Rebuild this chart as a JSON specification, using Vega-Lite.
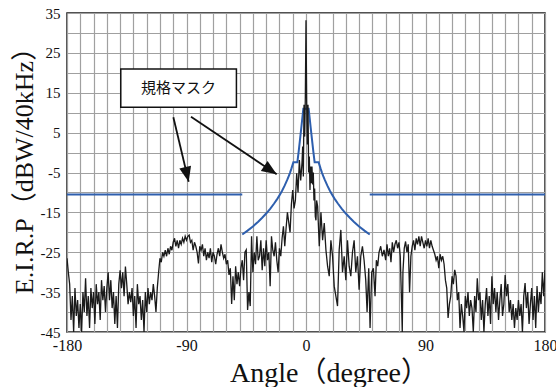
{
"$schema": "https://vega.github.io/schema/vega-lite/v6.json",
"width": 478, "height": 319,
"autosize": "none",
"padding": {"left": 67, "top": 13, "right": 11, "bottom": 55},
"background": "white",
"config": {"view": {"stroke": "#1a1a1a", "strokeWidth": 1.5}},
"datasets": {
"eirp": [
{"angle":-180,"eirp":-26.5},{"angle":-179,"eirp":-30},{"angle":-178,"eirp":-33},{"angle":-177,"eirp":-42},{"angle":-176,"eirp":-36},{"angle":-175,"eirp":-45},{"angle":-174,"eirp":-34},{"angle":-173,"eirp":-41},{"angle":-172,"eirp":-37},{"angle":-171,"eirp":-44},
{"angle":-170,"eirp":-38},{"angle":-169,"eirp":-45},{"angle":-168,"eirp":-35},{"angle":-167,"eirp":-40},{"angle":-166,"eirp":-31.5},{"angle":-165,"eirp":-41},{"angle":-164,"eirp":-36},{"angle":-163,"eirp":-44},{"angle":-162,"eirp":-34},{"angle":-161,"eirp":-39},
{"angle":-160,"eirp":-35},{"angle":-159,"eirp":-43},{"angle":-158,"eirp":-33},{"angle":-157,"eirp":-38},{"angle":-156,"eirp":-35},{"angle":-155,"eirp":-42},{"angle":-154,"eirp":-32},{"angle":-153,"eirp":-37},{"angle":-152,"eirp":-33.5},{"angle":-151,"eirp":-40},
{"angle":-150,"eirp":-34},{"angle":-149,"eirp":-30},{"angle":-148,"eirp":-37},{"angle":-147,"eirp":-32},{"angle":-146,"eirp":-39},{"angle":-145,"eirp":-35},{"angle":-144,"eirp":-43},{"angle":-143,"eirp":-36},{"angle":-142,"eirp":-44},{"angle":-141,"eirp":-33},
{"angle":-140,"eirp":-29.5},{"angle":-139,"eirp":-34},{"angle":-138,"eirp":-30},{"angle":-137,"eirp":-36},{"angle":-136,"eirp":-28.6},{"angle":-135,"eirp":-33},{"angle":-134,"eirp":-38},{"angle":-133,"eirp":-35},{"angle":-132,"eirp":-37.5},{"angle":-131,"eirp":-34},
{"angle":-130,"eirp":-41},{"angle":-129,"eirp":-36},{"angle":-128,"eirp":-44},{"angle":-127,"eirp":-33},{"angle":-126,"eirp":-38},{"angle":-125,"eirp":-36},{"angle":-124,"eirp":-42},{"angle":-123,"eirp":-37},{"angle":-122,"eirp":-45},{"angle":-121,"eirp":-35},
{"angle":-120,"eirp":-40},{"angle":-119,"eirp":-34},{"angle":-118,"eirp":-38},{"angle":-117,"eirp":-35},{"angle":-116,"eirp":-37},{"angle":-115,"eirp":-33},{"angle":-114,"eirp":-36},{"angle":-113,"eirp":-40},{"angle":-112,"eirp":-34},{"angle":-111,"eirp":-30},
{"angle":-110,"eirp":-26.5},{"angle":-109,"eirp":-27.5},{"angle":-108,"eirp":-25},{"angle":-107,"eirp":-26},{"angle":-106,"eirp":-24.5},{"angle":-105,"eirp":-26},{"angle":-104,"eirp":-24},{"angle":-103,"eirp":-25.5},{"angle":-102,"eirp":-23.5},{"angle":-101,"eirp":-24.5},
{"angle":-100,"eirp":-22.5},{"angle":-99,"eirp":-21.5},{"angle":-98,"eirp":-23.5},{"angle":-97,"eirp":-22},{"angle":-96,"eirp":-24},{"angle":-95,"eirp":-22},{"angle":-94,"eirp":-23},{"angle":-93,"eirp":-21.5},{"angle":-92,"eirp":-22.5},{"angle":-91,"eirp":-21},
{"angle":-90,"eirp":-22},{"angle":-89,"eirp":-21},{"angle":-88,"eirp":-20.7},{"angle":-87,"eirp":-22.5},{"angle":-86,"eirp":-22},{"angle":-85,"eirp":-24.5},{"angle":-84,"eirp":-22.5},{"angle":-83,"eirp":-23.5},{"angle":-82,"eirp":-25},{"angle":-81,"eirp":-27.8},
{"angle":-80,"eirp":-23.5},{"angle":-79,"eirp":-24.5},{"angle":-78,"eirp":-23},{"angle":-77,"eirp":-26},{"angle":-76,"eirp":-24},{"angle":-75,"eirp":-27},{"angle":-74,"eirp":-25},{"angle":-73,"eirp":-26.5},{"angle":-72,"eirp":-24},{"angle":-71,"eirp":-27.5},
{"angle":-70,"eirp":-25},{"angle":-69,"eirp":-26},{"angle":-68,"eirp":-28},{"angle":-67,"eirp":-25.5},{"angle":-66,"eirp":-24},{"angle":-65,"eirp":-26},{"angle":-64,"eirp":-23},{"angle":-63,"eirp":-25},{"angle":-62,"eirp":-26.5},{"angle":-61,"eirp":-25.5},
{"angle":-60,"eirp":-28},{"angle":-59,"eirp":-27},{"angle":-58,"eirp":-30.7},{"angle":-57,"eirp":-29},{"angle":-56,"eirp":-38},{"angle":-55,"eirp":-31},{"angle":-54,"eirp":-37},{"angle":-53,"eirp":-28.5},{"angle":-52,"eirp":-33},{"angle":-51,"eirp":-30},
{"angle":-50,"eirp":-33.5},{"angle":-49,"eirp":-29},{"angle":-48,"eirp":-27},{"angle":-47,"eirp":-32},{"angle":-46,"eirp":-25},{"angle":-45,"eirp":-24.4},{"angle":-44,"eirp":-39.5},{"angle":-43,"eirp":-35},{"angle":-42,"eirp":-38.5},{"angle":-41,"eirp":-21},
{"angle":-40,"eirp":-30},{"angle":-39,"eirp":-25},{"angle":-38,"eirp":-28},{"angle":-37,"eirp":-21},{"angle":-36,"eirp":-27},{"angle":-35,"eirp":-26},{"angle":-34,"eirp":-22},{"angle":-33,"eirp":-29.5},{"angle":-32,"eirp":-24},{"angle":-31,"eirp":-28.5},
{"angle":-30,"eirp":-22},{"angle":-29,"eirp":-27},{"angle":-28,"eirp":-25},{"angle":-27,"eirp":-33.5},{"angle":-26,"eirp":-21},{"angle":-25,"eirp":-24.5},{"angle":-24,"eirp":-26},{"angle":-23,"eirp":-22.5},{"angle":-22,"eirp":-27},{"angle":-21,"eirp":-30},
{"angle":-20,"eirp":-24},{"angle":-19,"eirp":-26},{"angle":-18,"eirp":-21.5},{"angle":-17,"eirp":-18.5},{"angle":-16,"eirp":-23.5},{"angle":-15,"eirp":-19},{"angle":-14,"eirp":-15},{"angle":-13,"eirp":-17.5},{"angle":-12,"eirp":-20},{"angle":-11,"eirp":-13},
{"angle":-10,"eirp":-9.4},{"angle":-9,"eirp":-14},{"angle":-8,"eirp":-12},{"angle":-7,"eirp":-5.2},{"angle":-6,"eirp":-10},{"angle":-5,"eirp":-1.9},{"angle":-4,"eirp":-7},{"angle":-3,"eirp":-2.5},{"angle":-2.5,"eirp":1.5},{"angle":-2,"eirp":-6},
{"angle":-1.5,"eirp":12},{"angle":-1,"eirp":4},{"angle":-0.5,"eirp":14},{"angle":0,"eirp":33.2},{"angle":0.5,"eirp":13},{"angle":1,"eirp":2},{"angle":1.5,"eirp":12},{"angle":2,"eirp":-5},{"angle":2.5,"eirp":-1},{"angle":3,"eirp":-9.4},
{"angle":3.5,"eirp":-3.5},{"angle":4,"eirp":-7.7},{"angle":4.5,"eirp":-3.5},{"angle":5,"eirp":-8},{"angle":5.5,"eirp":-5},{"angle":6,"eirp":-12},{"angle":6.5,"eirp":-9},{"angle":7,"eirp":-16},{"angle":7.5,"eirp":-17},{"angle":8,"eirp":-12},
{"angle":8.75,"eirp":-13.5},{"angle":10,"eirp":-23.5},{"angle":11.25,"eirp":-15},{"angle":12.5,"eirp":-22},{"angle":13.75,"eirp":-17.7},{"angle":15,"eirp":-24.4},{"angle":16.25,"eirp":-28.5},{"angle":17.5,"eirp":-31},{"angle":18.75,"eirp":-22},{"angle":20,"eirp":-26},
{"angle":21.25,"eirp":-33.5},{"angle":22.5,"eirp":-36},{"angle":23.75,"eirp":-38.5},{"angle":25,"eirp":-24.4},{"angle":26.25,"eirp":-19.4},{"angle":27.5,"eirp":-30},{"angle":28.75,"eirp":-26},{"angle":30,"eirp":-32},{"angle":31.25,"eirp":-22},{"angle":32.5,"eirp":-28.5},
{"angle":33.75,"eirp":-31},{"angle":35,"eirp":-25},{"angle":36.25,"eirp":-22},{"angle":37.5,"eirp":-30},{"angle":38.75,"eirp":-26},{"angle":40,"eirp":-34.4},{"angle":41.25,"eirp":-26},{"angle":42.5,"eirp":-23.5},{"angle":43.75,"eirp":-27},{"angle":45,"eirp":-32},
{"angle":46,"eirp":-40},{"angle":47.25,"eirp":-29},{"angle":48.25,"eirp":-44},{"angle":49.5,"eirp":-30},{"angle":50.75,"eirp":-29},{"angle":52,"eirp":-36},{"angle":53,"eirp":-27},{"angle":54,"eirp":-28.5},{"angle":55,"eirp":-25},{"angle":56.25,"eirp":-23.5},
{"angle":57.5,"eirp":-26},{"angle":58.75,"eirp":-24.4},{"angle":60,"eirp":-27},{"angle":61,"eirp":-23},{"angle":62,"eirp":-26},{"angle":63,"eirp":-24},{"angle":64,"eirp":-27.5},{"angle":65,"eirp":-22.5},{"angle":66,"eirp":-25},{"angle":67,"eirp":-23},
{"angle":68,"eirp":-22},{"angle":69,"eirp":-24},{"angle":70,"eirp":-22.5},{"angle":71,"eirp":-26},{"angle":72,"eirp":-38},{"angle":72.5,"eirp":-45},{"angle":73,"eirp":-30},{"angle":74,"eirp":-24},{"angle":75,"eirp":-22.3},{"angle":76,"eirp":-25},
{"angle":77,"eirp":-23},{"angle":78,"eirp":-35},{"angle":79,"eirp":-26},{"angle":80,"eirp":-23.5},{"angle":81,"eirp":-22},{"angle":82,"eirp":-24.5},{"angle":83,"eirp":-21.5},{"angle":84,"eirp":-23},{"angle":85,"eirp":-21},{"angle":86,"eirp":-23.5},
{"angle":87,"eirp":-21},{"angle":88,"eirp":-22.5},{"angle":89,"eirp":-24},{"angle":90,"eirp":-22},{"angle":91,"eirp":-23.5},{"angle":92,"eirp":-21.5},{"angle":93,"eirp":-24},{"angle":94,"eirp":-22},{"angle":95,"eirp":-23.5},{"angle":96,"eirp":-24.5},
{"angle":97,"eirp":-25.5},{"angle":98,"eirp":-27},{"angle":99,"eirp":-26},{"angle":100,"eirp":-29},{"angle":101,"eirp":-25.5},{"angle":102,"eirp":-27},{"angle":103,"eirp":-26},{"angle":104,"eirp":-28},{"angle":105,"eirp":-32},{"angle":106,"eirp":-34},
{"angle":107,"eirp":-41.5},{"angle":108,"eirp":-38},{"angle":109,"eirp":-36},{"angle":110,"eirp":-31},{"angle":111,"eirp":-33},{"angle":112,"eirp":-29.4},{"angle":113,"eirp":-31},{"angle":114,"eirp":-37},{"angle":115,"eirp":-35},{"angle":116,"eirp":-44},
{"angle":117,"eirp":-38},{"angle":118,"eirp":-41},{"angle":119,"eirp":-45},{"angle":120,"eirp":-36},{"angle":121,"eirp":-39},{"angle":122,"eirp":-35},{"angle":123,"eirp":-41},{"angle":124,"eirp":-37},{"angle":125,"eirp":-39},{"angle":126,"eirp":-45},
{"angle":127,"eirp":-36},{"angle":128,"eirp":-40},{"angle":129,"eirp":-31.5},{"angle":130,"eirp":-37},{"angle":131,"eirp":-35},{"angle":132,"eirp":-42},{"angle":133,"eirp":-37},{"angle":134,"eirp":-45},{"angle":135,"eirp":-38},{"angle":136,"eirp":-34},
{"angle":137,"eirp":-41},{"angle":138,"eirp":-36},{"angle":139,"eirp":-43},{"angle":140,"eirp":-31},{"angle":141,"eirp":-38},{"angle":142,"eirp":-34},{"angle":143,"eirp":-40},{"angle":144,"eirp":-35},{"angle":145,"eirp":-42},{"angle":146,"eirp":-37},
{"angle":147,"eirp":-33},{"angle":148,"eirp":-41},{"angle":149,"eirp":-38},{"angle":150,"eirp":-30.7},{"angle":151,"eirp":-36},{"angle":152,"eirp":-33},{"angle":153,"eirp":-40},{"angle":154,"eirp":-37},{"angle":155,"eirp":-42},{"angle":156,"eirp":-38},
{"angle":157,"eirp":-44},{"angle":158,"eirp":-39},{"angle":159,"eirp":-42},{"angle":160,"eirp":-37},{"angle":161,"eirp":-41},{"angle":162,"eirp":-38},{"angle":163,"eirp":-45},{"angle":164,"eirp":-36},{"angle":165,"eirp":-32.7},{"angle":166,"eirp":-39},
{"angle":167,"eirp":-35},{"angle":168,"eirp":-43},{"angle":169,"eirp":-38},{"angle":170,"eirp":-34},{"angle":171,"eirp":-42},{"angle":172,"eirp":-36},{"angle":173,"eirp":-44},{"angle":174,"eirp":-33.5},{"angle":175,"eirp":-40},{"angle":176,"eirp":-35},
{"angle":177,"eirp":-38},{"angle":178,"eirp":-30},{"angle":179,"eirp":-36},{"angle":180,"eirp":-29.5}
],
"mask": [
{"seg":"L","angle":-180,"eirp":-10.5},{"seg":"L","angle":-48,"eirp":-10.5},
{"seg":"R","angle":48,"eirp":-10.5},{"seg":"R","angle":180,"eirp":-10.5},
{"seg":"C","angle":-48,"eirp":-20.55},{"seg":"C","angle":-44,"eirp":-19.57},{"seg":"C","angle":-40,"eirp":-18.52},{"seg":"C","angle":-36,"eirp":-17.33},{"seg":"C","angle":-33,"eirp":-16.36},{"seg":"C","angle":-30,"eirp":-15.29},{"seg":"C","angle":-27,"eirp":-14.1},{"seg":"C","angle":-24,"eirp":-12.78},{"seg":"C","angle":-22,"eirp":-11.81},{"seg":"C","angle":-20,"eirp":-10.74},{"seg":"C","angle":-18,"eirp":-9.56},{"seg":"C","angle":-16,"eirp":-8.24},{"seg":"C","angle":-14,"eirp":-6.75},{"seg":"C","angle":-13,"eirp":-5.92},{"seg":"C","angle":-12,"eirp":-5.02},{"seg":"C","angle":-11,"eirp":-4.04},{"seg":"C","angle":-10,"eirp":-2.97},{"seg":"C","angle":-9.5,"eirp":-2.4},
{"seg":"C","angle":-6.5,"eirp":-2.4},{"seg":"C","angle":-5.5,"eirp":0.3},{"seg":"C","angle":-4.5,"eirp":3.3},{"seg":"C","angle":-3.5,"eirp":6.3},{"seg":"C","angle":-2.7,"eirp":8.8},{"seg":"C","angle":-2,"eirp":11},
{"seg":"C","angle":2,"eirp":11},{"seg":"C","angle":2.7,"eirp":8.8},{"seg":"C","angle":3.5,"eirp":6.3},{"seg":"C","angle":4.5,"eirp":3.3},{"seg":"C","angle":5.5,"eirp":0.3},{"seg":"C","angle":6.5,"eirp":-2.4},
{"seg":"C","angle":9.5,"eirp":-2.4},{"seg":"C","angle":10,"eirp":-2.97},{"seg":"C","angle":11,"eirp":-4.04},{"seg":"C","angle":12,"eirp":-5.02},{"seg":"C","angle":13,"eirp":-5.92},{"seg":"C","angle":14,"eirp":-6.75},{"seg":"C","angle":16,"eirp":-8.24},{"seg":"C","angle":18,"eirp":-9.56},{"seg":"C","angle":20,"eirp":-10.74},{"seg":"C","angle":22,"eirp":-11.81},{"seg":"C","angle":24,"eirp":-12.78},{"seg":"C","angle":27,"eirp":-14.1},{"seg":"C","angle":30,"eirp":-15.29},{"seg":"C","angle":33,"eirp":-16.36},{"seg":"C","angle":36,"eirp":-17.33},{"seg":"C","angle":40,"eirp":-18.52},{"seg":"C","angle":44,"eirp":-19.57},{"seg":"C","angle":48,"eirp":-20.55}
],
"box": [{"angle":-139.5,"angle2":-52.4,"eirp":11.35,"eirp2":20.96}],
"label": [{"angle":-95.95,"eirp":16.15,"label":"規格マスク"}],
"arrows": [{"id":1,"angle":-99.9,"eirp":8.84,"angle2":-88.35,"eirp2":-7.31},{"id":2,"angle":-86.6,"eirp":9.0,"angle2":-22.1,"eirp2":-5.45}],
"heads": [{"id":1,"angle":-88.35,"eirp":-7.31},{"id":2,"angle":-22.1,"eirp":-5.45}]
},
"encoding": {
  "x":{"field":"angle","type":"quantitative","scale":{"domain":[-180,180],"nice":false,"zero":false},
   "axis":{"values":[-180,-170,-160,-150,-140,-130,-120,-110,-100,-90,-80,-70,-60,-50,-40,-30,-20,-10,0,10,20,30,40,50,60,70,80,90,100,110,120,130,140,150,160,170,180],
    "labelExpr":"datum.value % 90 === 0 ? toString(datum.value) : ''",
    "title":"Angle（degree）","ticks":false,"tickSize":0,"domain":false,"grid":true,"gridColor":"#a0a0a0","gridWidth":1.2,
    "labelFont":"Liberation Serif","labelFontSize":16,"labelColor":"#111","labelPadding":5,"labelFlush":false,"labelOverlap":false,"labelBound":false,
    "titleFont":"Liberation Serif, Noto Sans CJK JP","titleFontSize":28,"titleFontWeight":"normal","titleColor":"#111","titlePadding":6,"titleX":262}},
  "y":{"field":"eirp","type":"quantitative","scale":{"domain":[-45,35],"nice":false,"zero":false},
   "axis":{"values":[-45,-40,-35,-30,-25,-20,-15,-10,-5,0,5,10,15,20,25,30,35],
    "labelExpr":"(datum.value + 45) % 10 === 0 ? toString(datum.value) : ''",
    "title":"E.I.R.P（dBW/40kHz）","ticks":false,"tickSize":0,"domain":false,"grid":true,"gridColor":"#a0a0a0","gridWidth":1.2,
    "labelFont":"Liberation Serif","labelFontSize":15,"labelColor":"#111","labelPadding":7,"labelOverlap":false,"labelBound":false,"labelFlush":false,
    "titleFont":"Liberation Serif, Noto Sans CJK JP","titleFontSize":26,"titleFontWeight":"normal","titleColor":"#111","titlePadding":3,"titleY":151}}
},
"layer": [
{"data":{"name":"mask"},
 "mark":{"type":"line","color":"#2e5fae","strokeWidth":2,"clip":true},
 "encoding":{"detail":{"field":"seg","type":"nominal"}}},
{"data":{"name":"eirp"},
 "mark":{"type":"line","color":"#1a1a1a","strokeWidth":1.3,"clip":true},
 "encoding":{}},
{"data":{"name":"box"},
 "mark":{"type":"rect","fill":"white","stroke":"#111","strokeWidth":1.5},
 "encoding":{"x2":{"field":"angle2"},"y2":{"field":"eirp2"}}},
{"data":{"name":"label"},
 "mark":{"type":"text","font":"Noto Sans CJK JP","fontSize":15,"color":"#111","align":"center","baseline":"middle"},
 "encoding":{"text":{"field":"label","type":"nominal"}}},
{"data":{"name":"arrows"},
 "mark":{"type":"rule","color":"#111","strokeWidth":1.8},
 "encoding":{"x2":{"field":"angle2"},"y2":{"field":"eirp2"}}},
{"data":{"name":"heads"},
 "transform":[{"filter":"datum.id === 1"}],
 "mark":{"type":"point","shape":"M0,0L-0.4,1L0.4,1Z","size":900,"filled":true,"color":"#111","opacity":1,"angle":166.5},
 "encoding":{}},
{"data":{"name":"heads"},
 "transform":[{"filter":"datum.id === 2"}],
 "mark":{"type":"point","shape":"M0,0L-0.4,1L0.4,1Z","size":900,"filled":true,"color":"#111","opacity":1,"angle":123.9},
 "encoding":{}}
]
}
